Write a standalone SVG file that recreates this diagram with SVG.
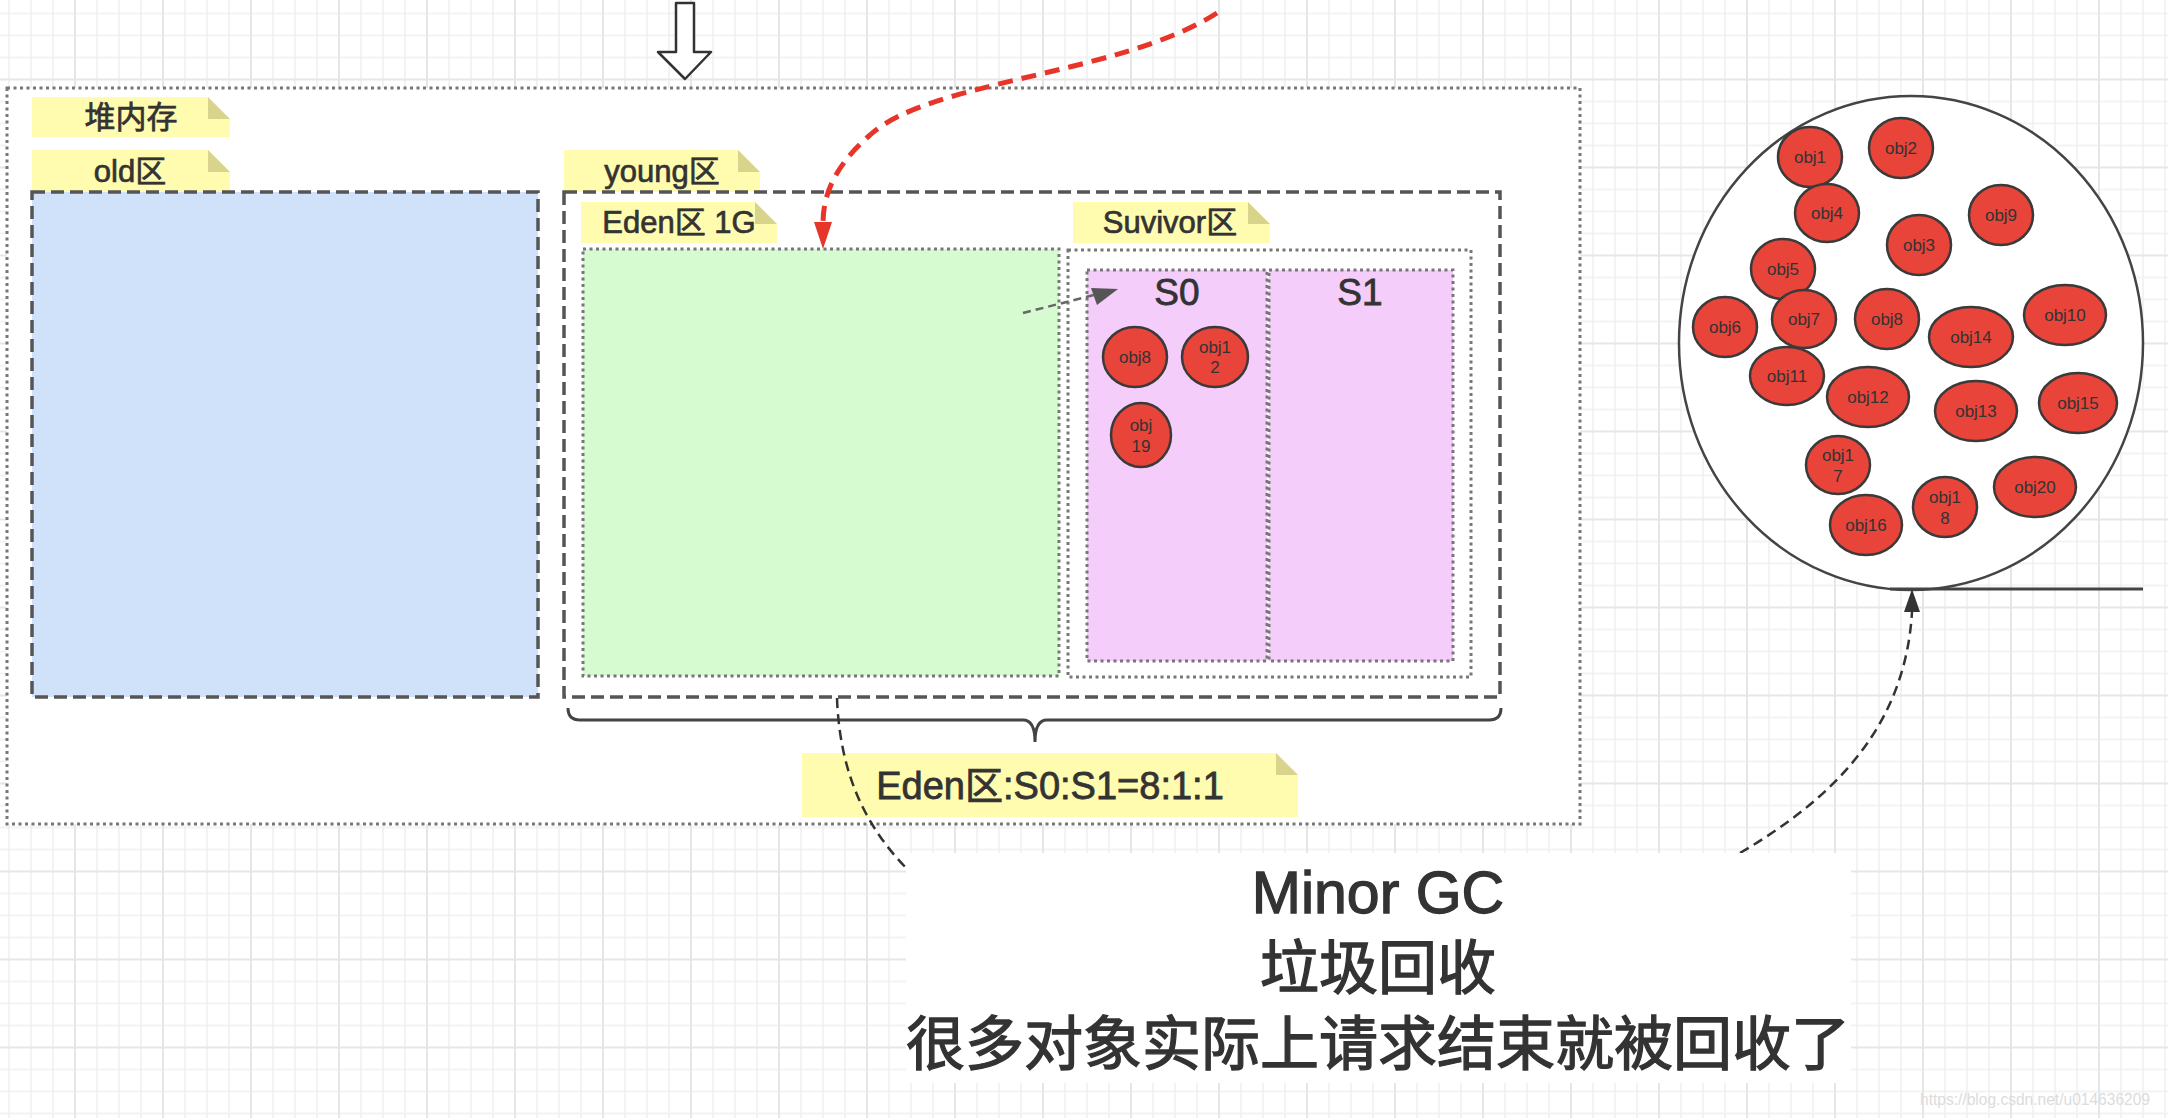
<svg xmlns="http://www.w3.org/2000/svg" width="2168" height="1118" viewBox="0 0 2168 1118">
<style>
.t{font-family:"Liberation Sans","Noto Sans CJK SC",sans-serif;fill:#333;}
.note{fill:#fffcaf;}
.fold{fill:#d9d48c;}
.nt{font-size:31px;text-anchor:middle;stroke:#333;stroke-width:0.7;}
.dashbox{stroke:#555;stroke-width:3.5;stroke-dasharray:13 6;}
.dotbox{stroke:#777;stroke-width:3;stroke-dasharray:3 3.5;}
.obj{fill:#e8443a;stroke:#3a3a3a;stroke-width:2.5;}
.ot{font-size:17px;text-anchor:middle;}
.conn{fill:none;stroke:#333;stroke-width:2.5;stroke-dasharray:10 6;}
.big{font-size:59px;text-anchor:middle;stroke:#333;stroke-width:1.3;}
</style>
<defs>
<pattern id="grid" patternUnits="userSpaceOnUse" x="-14" y="-9.5" width="88" height="88">
<path d="M23 0V88M45 0V88M67 0V88M0 23H88M0 45H88M0 67H88" stroke="#f0f0f0" stroke-width="1.6" fill="none"/>
<path d="M1 0V88M0 1H88" stroke="#e6e6e6" stroke-width="2" fill="none"/>
</pattern>
</defs>
<rect width="2168" height="1118" fill="#fff"/>
<rect width="2168" height="1118" fill="url(#grid)"/>

<g id="watermark"><text class="t" x="1920" y="1105" font-size="17" textLength="230" lengthAdjust="spacingAndGlyphs" style="fill:#dcdcdc">https://blog.csdn.net/u014636209</text></g>

<g id="input-arrow"><path d="M676 3H694V52H711L685 79L658 52H676Z" fill="#fff" stroke="#333" stroke-width="2.5" stroke-linejoin="round"/></g>

<g id="heap"><rect x="7" y="88" width="1573" height="736" fill="#fff" class="dotbox"/></g>

<g id="note-heap"><path class="note" d="M32 97H208L230 119V137H32Z"/><path class="fold" d="M208 97V119H230Z"/><text class="t nt" x="131" y="128">堆内存</text></g>
<g id="note-old"><path class="note" d="M32 150H208L230 172V192H32Z"/><path class="fold" d="M208 150V172H230Z"/><text class="t nt" x="130" y="182">old区</text></g>
<g id="old"><rect x="32" y="192" width="506" height="505" fill="#cfe2fa" class="dashbox"/></g>

<g id="note-young"><path class="note" d="M564 150H738L760 172V192H564Z"/><path class="fold" d="M738 150V172H760Z"/><text class="t nt" x="662" y="182">young区</text></g>
<g id="young"><rect x="564" y="192" width="936" height="505" fill="#fff" class="dashbox"/></g>

<g id="note-eden"><path class="note" d="M581 202H755L777 224V243H581Z"/><path class="fold" d="M755 202V224H777Z"/><text class="t nt" x="679" y="233">Eden区 1G</text></g>
<g id="eden"><rect x="583" y="249" width="476" height="427" fill="#d6fbd0" class="dotbox"/></g>

<g id="note-survivor"><path class="note" d="M1073 202H1248L1270 224V243H1073Z"/><path class="fold" d="M1248 202V224H1270Z"/><text class="t nt" x="1170" y="233">Suvivor区</text></g>
<g id="survivor"><rect x="1068" y="250" width="403" height="427" fill="#fff" class="dotbox"/></g>

<g id="s0"><rect x="1087" y="270" width="180" height="391" fill="#f4cdfb" class="dotbox"/><text class="t" x="1177" y="305" font-size="37" text-anchor="middle" stroke="#333" stroke-width="0.8">S0</text>
<ellipse class="obj" cx="1135" cy="357" rx="32" ry="30"/><text class="t ot" x="1135" y="363">obj8</text>
<ellipse class="obj" cx="1215" cy="357" rx="33" ry="30"/><text class="t ot" x="1215" y="353">obj1</text><text class="t ot" x="1215" y="373">2</text>
<ellipse class="obj" cx="1141" cy="435" rx="30" ry="32"/><text class="t ot" x="1141" y="431">obj</text><text class="t ot" x="1141" y="452">19</text>
</g>
<g id="s1"><rect x="1269" y="270" width="184" height="391" fill="#f4cdfb" class="dotbox"/><text class="t" x="1360" y="305" font-size="37" text-anchor="middle" stroke="#333" stroke-width="0.8">S1</text></g>

<g id="brace"><path d="M568 708Q568 720 580 720H1023Q1035 720 1035 742Q1035 720 1047 720H1489Q1501 720 1501 708" fill="none" stroke="#444" stroke-width="3"/></g>

<g id="note-ratio"><path class="note" d="M802 753H1276L1298 775V817H802Z"/><path class="fold" d="M1276 753V775H1298Z"/><text class="t" x="1050" y="799" font-size="38" text-anchor="middle" stroke="#333" stroke-width="0.8">Eden区:S0:S1=8:1:1</text></g>

<g id="gc-pool">
<ellipse cx="1911" cy="343" rx="232" ry="247" fill="#fff" stroke="#444" stroke-width="2.5"/>
<line x1="1890" y1="589" x2="2143" y2="589" stroke="#444" stroke-width="3"/>
<ellipse class="obj" cx="1810" cy="157" rx="32" ry="30"/><text class="t ot" x="1810" y="163">obj1</text>
<ellipse class="obj" cx="1901" cy="148" rx="32" ry="30"/><text class="t ot" x="1901" y="154">obj2</text>
<ellipse class="obj" cx="1827" cy="213" rx="32" ry="29"/><text class="t ot" x="1827" y="219">obj4</text>
<ellipse class="obj" cx="2001" cy="215" rx="32" ry="30"/><text class="t ot" x="2001" y="221">obj9</text>
<ellipse class="obj" cx="1919" cy="245" rx="32" ry="30"/><text class="t ot" x="1919" y="251">obj3</text>
<ellipse class="obj" cx="1783" cy="269" rx="32" ry="30"/><text class="t ot" x="1783" y="275">obj5</text>
<ellipse class="obj" cx="1725" cy="327" rx="32" ry="30"/><text class="t ot" x="1725" y="333">obj6</text>
<ellipse class="obj" cx="1804" cy="319" rx="32" ry="29"/><text class="t ot" x="1804" y="325">obj7</text>
<ellipse class="obj" cx="1887" cy="319" rx="32" ry="30"/><text class="t ot" x="1887" y="325">obj8</text>
<ellipse class="obj" cx="1971" cy="337" rx="42" ry="30"/><text class="t ot" x="1971" y="343">obj14</text>
<ellipse class="obj" cx="2065" cy="315" rx="41" ry="30"/><text class="t ot" x="2065" y="321">obj10</text>
<ellipse class="obj" cx="1787" cy="376" rx="37" ry="29"/><text class="t ot" x="1787" y="382">obj11</text>
<ellipse class="obj" cx="1868" cy="397" rx="41" ry="30"/><text class="t ot" x="1868" y="403">obj12</text>
<ellipse class="obj" cx="1976" cy="411" rx="41" ry="30"/><text class="t ot" x="1976" y="417">obj13</text>
<ellipse class="obj" cx="2078" cy="403" rx="39" ry="30"/><text class="t ot" x="2078" y="409">obj15</text>
<ellipse class="obj" cx="1838" cy="465" rx="32" ry="29"/><text class="t ot" x="1838" y="461">obj1</text><text class="t ot" x="1838" y="482">7</text>
<ellipse class="obj" cx="1866" cy="525" rx="36" ry="30"/><text class="t ot" x="1866" y="531">obj16</text>
<ellipse class="obj" cx="1945" cy="507" rx="32" ry="30"/><text class="t ot" x="1945" y="503">obj1</text><text class="t ot" x="1945" y="524">8</text>
<ellipse class="obj" cx="2035" cy="487" rx="41" ry="30"/><text class="t ot" x="2035" y="493">obj20</text>
</g>

<g id="connectors">
<path d="M1217 13C1120 75 930 80 870 135C830 170 823 200 823 224" fill="none" stroke="#e8352a" stroke-width="5" stroke-dasharray="15 9"/>
<path d="M814 222H832L823 249Z" fill="#e8352a"/>
<path d="M1023 313L1094 295" fill="none" stroke="#666" stroke-width="2.5" stroke-dasharray="8 5"/>
<path d="M1118 289L1091 288L1097 305Z" fill="#555"/>
<path class="conn" d="M837 698C840 780 870 840 930 890"/>
<path class="conn" d="M1740 853C1830 800 1905 730 1912 612"/>
<path d="M1904 612H1920L1912 589Z" fill="#333"/>
</g>

<g id="minor-gc">
<rect x="906" y="853" width="945" height="230" fill="#fff"/>
<text class="t big" x="1378" y="913">Minor GC</text>
<text class="t big" x="1378" y="989">垃圾回收</text>
<text class="t big" x="1378" y="1065">很多对象实际上请求结束就被回收了</text>
</g>
</svg>
